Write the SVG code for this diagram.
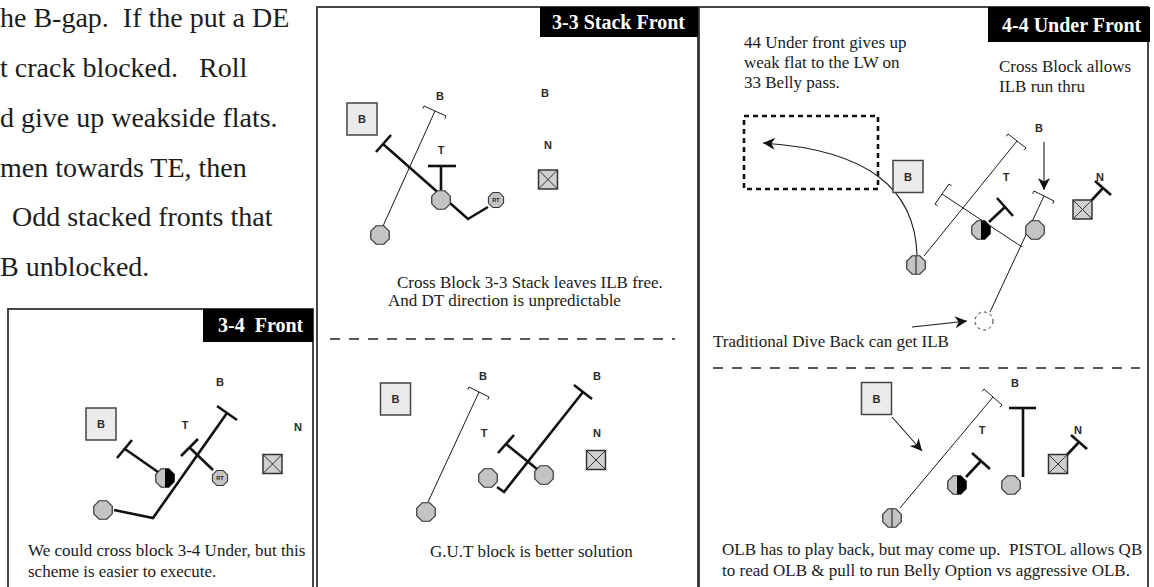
<svg xmlns="http://www.w3.org/2000/svg" xmlns:xlink="http://www.w3.org/1999/xlink" width="1154" height="587" viewBox="0 0 1154 587">
  <style>
    .body { font-family: "Liberation Serif", "Times New Roman", serif; font-size: 28px; fill: #1c1c1c; white-space: pre; }
    .cap { font-family: "Liberation Serif", "Times New Roman", serif; font-size: 17px; fill: #1a1a1a; white-space: pre; }
    .hdr { font-family: "Liberation Serif", "Times New Roman", serif; font-size: 20px; font-weight: bold; fill: #fff; white-space: pre; }
    .lbl { font-family: "Liberation Sans", Arial, sans-serif; font-size: 11px; font-weight: bold; fill: #2a2a2a; text-anchor: middle; }
    .frame { fill: none; stroke: #333; stroke-width: 1.8; }
    .thin { fill: none; stroke: #1a1a1a; stroke-width: 1; }
    .thick { fill: none; stroke: #111; stroke-width: 2.6; }
    .sep { fill: none; stroke: #222; stroke-width: 1.3; stroke-dasharray: 10 9; }
    .zone { fill: none; stroke: #111; stroke-width: 2.6; stroke-dasharray: 5 4; }
    .arrow { fill: none; stroke: #1a1a1a; stroke-width: 1.1; }
  </style>
  <defs>
    <path id="oct" d="M9.24,-3.83 L9.24,3.83 L3.83,9.24 L-3.83,9.24 L-9.24,3.83 L-9.24,-3.83 L-3.83,-9.24 L3.83,-9.24Z"/>
    <g id="plain">
      <use xlink:href="#oct" href="#oct" fill="#c4c4c4" stroke="#333" stroke-width="1.2"/>
    </g>
    <g id="half">
      <use xlink:href="#oct" href="#oct" fill="#c4c4c4" stroke="#333" stroke-width="1.2"/>
      <path d="M0,-9.24 L3.83,-9.24 L9.24,-3.83 L9.24,3.83 L3.83,9.24 L0,9.24Z" fill="#000"/>
    </g>
    <g id="split">
      <use xlink:href="#oct" href="#oct" fill="#c4c4c4" stroke="#333" stroke-width="1.2"/>
      <line x1="0" y1="-9.24" x2="0" y2="9.24" stroke="#333" stroke-width="1.2"/>
    </g>
    <g id="rt">
      <use xlink:href="#oct" href="#oct" fill="#c4c4c4" stroke="#333" stroke-width="1.3" transform="scale(0.82)"/>
      <text y="2" font-family="Liberation Sans, Arial, sans-serif" font-size="5.5" font-weight="bold" text-anchor="middle" fill="#222">RT</text>
    </g>
    <g id="xbox">
      <rect x="-9.5" y="-9.5" width="19" height="19" fill="#d0d0d0" stroke="#333" stroke-width="1.5"/>
      <path d="M-9.5,-9.5 L9.5,9.5 M9.5,-9.5 L-9.5,9.5" stroke="#333" stroke-width="1"/>
    </g>
    <g id="bsq">
      <rect x="-15" y="-16" width="30" height="32" fill="#ebebeb" stroke="#444" stroke-width="1.5"/>
      <text y="4" class="lbl">B</text>
    </g>
    <marker id="ah" viewBox="0 0 10 10" refX="10" refY="5" markerWidth="14" markerHeight="12" markerUnits="userSpaceOnUse" orient="auto">
      <path d="M0,0 L10,5 L0,10 L3,5Z" fill="#111"/>
    </marker>
  </defs>

  <rect width="1154" height="587" fill="#fff"/>

  <!-- running text on the left -->
  <g id="page-text" class="body">
    <text x="0" y="27" xml:space="preserve">he B-gap.  If the put a DE</text>
    <text x="0" y="77" xml:space="preserve">t crack blocked.   Roll</text>
    <text x="0" y="127">d give up weakside flats.</text>
    <text x="0" y="177">men towards TE, then</text>
    <text x="12" y="226">Odd stacked fronts that</text>
    <text x="0" y="276">B unblocked.</text>
  </g>

  <!-- ===== 3-4 Front ===== -->
  <g id="front-34">
    <rect class="frame" x="8" y="309" width="305" height="290"/>
    <rect x="203" y="309" width="110" height="33" fill="#000"/>
    <text class="hdr" x="218" y="332" xml:space="preserve">3-4  Front</text>
    <g id="c34" class="connectors">
      <line class="thick" x1="158" y1="472" x2="125" y2="449"/>
      <line class="thick" x1="117" y1="458" x2="132" y2="440"/>
      <line class="thick" x1="213" y1="470" x2="190" y2="448"/>
      <line class="thick" x1="181" y1="456" x2="198" y2="439"/>
      <polyline class="thick" points="114,510 153,518 227,413"/>
      <line class="thick" x1="217" y1="406" x2="237" y2="420"/>
    </g>
    <g id="n34-b-sq"><use xlink:href="#bsq" href="#bsq" transform="translate(101,424)"/></g>
    <g id="n34-b"><text class="lbl" x="220" y="386">B</text></g>
    <g id="n34-t"><text class="lbl" x="185" y="429">T</text></g>
    <g id="n34-n"><text class="lbl" x="298" y="431">N</text></g>
    <g id="n34-x"><use xlink:href="#xbox" href="#xbox" transform="translate(272.5,464)"/></g>
    <g id="n34-half"><use xlink:href="#half" href="#half" transform="translate(165,478)"/></g>
    <g id="n34-rt"><use xlink:href="#rt" href="#rt" transform="translate(220,478)"/></g>
    <g id="n34-back"><use xlink:href="#plain" href="#plain" transform="translate(103,510)"/></g>
    <text class="cap" x="28" y="556">We could cross block 3-4 Under, but this</text>
    <text class="cap" x="28" y="577">scheme is easier to execute.</text>
  </g>

  <!-- ===== 3-3 Stack Front ===== -->
  <g id="front-33">
    <rect class="frame" x="317" y="7" width="381" height="600"/>
    <rect x="540" y="7" width="158" height="30" fill="#000"/>
    <text class="hdr" x="552" y="29">3-3 Stack Front</text>

    <g id="c33a" class="connectors">
      <line class="thin" x1="383" y1="226" x2="435" y2="111"/>
      <polyline class="thin" points="422.8,108.7 424,106 446,116 444.8,118.7"/>
      <polyline class="thick" points="488,207 468,219 383,144"/>
      <line class="thick" x1="376" y1="152" x2="391" y2="135"/>
      <line class="thick" x1="441" y1="190" x2="441" y2="166"/>
      <line class="thick" x1="428" y1="166" x2="456" y2="166"/>
    </g>
    <g id="n33a-b-sq"><use xlink:href="#bsq" href="#bsq" transform="translate(362,119)"/></g>
    <g id="n33a-b1"><text class="lbl" x="440" y="100">B</text></g>
    <g id="n33a-b2"><text class="lbl" x="545" y="97">B</text></g>
    <g id="n33a-n"><text class="lbl" x="548" y="149">N</text></g>
    <g id="n33a-t"><text class="lbl" x="441" y="154">T</text></g>
    <g id="n33a-x"><use xlink:href="#xbox" href="#xbox" transform="translate(548,179.5)"/></g>
    <g id="n33a-g"><use xlink:href="#plain" href="#plain" transform="translate(441,200)"/></g>
    <g id="n33a-rt"><use xlink:href="#rt" href="#rt" transform="translate(496,200)"/></g>
    <g id="n33a-back"><use xlink:href="#plain" href="#plain" transform="translate(380,235)"/></g>
    <text class="cap" x="397" y="288">Cross Block 3-3 Stack leaves ILB free.</text>
    <text class="cap" x="388" y="306">And DT direction is unpredictable</text>

    <line class="sep" x1="330" y1="339" x2="675" y2="339"/>

    <g id="c33b" class="connectors">
      <line class="thin" x1="428" y1="502" x2="479" y2="392"/>
      <polyline class="thin" points="467.7,389.7 469,387 489,397 487.7,399.7"/>
      <polyline class="thick" points="497,487 504,492 583,392"/>
      <line class="thick" x1="574" y1="385" x2="592" y2="399"/>
      <line class="thick" x1="537" y1="469" x2="506" y2="444"/>
      <line class="thick" x1="498" y1="453" x2="514" y2="435"/>
    </g>
    <g id="n33b-b-sq"><use xlink:href="#bsq" href="#bsq" transform="translate(395.5,399)"/></g>
    <g id="n33b-b1"><text class="lbl" x="483" y="380">B</text></g>
    <g id="n33b-b2"><text class="lbl" x="597" y="380">B</text></g>
    <g id="n33b-t"><text class="lbl" x="484" y="437">T</text></g>
    <g id="n33b-n"><text class="lbl" x="597" y="437">N</text></g>
    <g id="n33b-x"><use xlink:href="#xbox" href="#xbox" transform="translate(596,460)"/></g>
    <g id="n33b-g1"><use xlink:href="#plain" href="#plain" transform="translate(488,478)"/></g>
    <g id="n33b-g2"><use xlink:href="#plain" href="#plain" transform="translate(544,475)"/></g>
    <g id="n33b-back"><use xlink:href="#plain" href="#plain" transform="translate(426,512)"/></g>
    <text class="cap" x="430" y="557">G.U.T block is better solution</text>
  </g>

  <!-- ===== 4-4 Under Front ===== -->
  <g id="front-44">
    <rect class="frame" x="699" y="7" width="449" height="600"/>
    <rect x="988" y="7" width="162" height="35" fill="#000"/>
    <text class="hdr" x="1002" y="32">4-4 Under Front</text>

    <text class="cap" x="744" y="48">44 Under front gives up</text>
    <text class="cap" x="744" y="68">weak flat to the LW on</text>
    <text class="cap" x="744" y="88">33 Belly pass.</text>
    <text class="cap" x="999" y="72">Cross Block allows</text>
    <text class="cap" x="999" y="92">ILB run thru</text>

    <rect id="flat-zone" class="zone" x="744" y="116" width="134" height="73"/>

    <g id="c44a" class="connectors">
      <path class="arrow" d="M917,255 C915,190 870,150 763,143" marker-end="url(#ah)"/>
      <line class="thin" x1="924" y1="256" x2="1017" y2="141"/>
      <polyline class="thin" points="1006.1,136.3 1008,134 1026,148 1024.1,150.3"/>
      <line class="thin" x1="1022" y1="247" x2="942" y2="194"/>
      <polyline class="thin" points="937.5,205.7 935,204 949,184 951.5,185.7"/>
      <line class="thick" x1="989" y1="222" x2="1005" y2="207"/>
      <line class="thick" x1="997" y1="198" x2="1013" y2="216"/>
      <line class="thick" x1="1091" y1="201" x2="1103" y2="188"/>
      <line class="thick" x1="1095" y1="181" x2="1111" y2="195"/>
      <line class="arrow" x1="1044" y1="142" x2="1044" y2="190" marker-end="url(#ah)"/>
      <line class="thin" x1="1044" y1="196" x2="990" y2="312"/>
      <polyline class="thin" points="1032.7,193.7 1034,191 1054,201 1052.7,203.7"/>
      <polyline class="arrow" points="912,327 940,324 967,321" marker-end="url(#ah)"/>
    </g>
    <g id="n44a-b-sq"><use xlink:href="#bsq" href="#bsq" transform="translate(908,176.5)"/></g>
    <g id="n44a-b"><text class="lbl" x="1039" y="132">B</text></g>
    <g id="n44a-t"><text class="lbl" x="1006" y="181">T</text></g>
    <g id="n44a-n"><text class="lbl" x="1100" y="181">N</text></g>
    <g id="n44a-x"><use xlink:href="#xbox" href="#xbox" transform="translate(1082.5,209.5)"/></g>
    <g id="n44a-qb"><use xlink:href="#split" href="#split" transform="translate(916,265)"/></g>
    <g id="n44a-half"><use xlink:href="#half" href="#half" transform="translate(981,230)"/></g>
    <g id="n44a-g"><use xlink:href="#plain" href="#plain" transform="translate(1035,230)"/></g>
    <g id="n44a-dive"><circle cx="984" cy="321" r="9" fill="none" stroke="#333" stroke-width="1" stroke-dasharray="3 3"/></g>
    <text class="cap" x="713" y="347">Traditional Dive Back can get ILB</text>

    <line class="sep" x1="713" y1="368" x2="1140" y2="368"/>

    <g id="c44b" class="connectors">
      <line class="arrow" x1="892" y1="417" x2="922" y2="451" marker-end="url(#ah)"/>
      <line class="thin" x1="900" y1="508" x2="993" y2="397"/>
      <polyline class="thin" points="982.1,391.3 984,389 1002,405 1000.1,407.3"/>
      <line class="thick" x1="966" y1="477" x2="981" y2="461"/>
      <line class="thick" x1="972" y1="453" x2="990" y2="469"/>
      <line class="thick" x1="1023" y1="477" x2="1023" y2="408"/>
      <line class="thick" x1="1009" y1="408" x2="1036" y2="408"/>
      <line class="thick" x1="1066" y1="456" x2="1079" y2="442"/>
      <line class="thick" x1="1071" y1="435" x2="1087" y2="449"/>
    </g>
    <g id="n44b-b-sq"><use xlink:href="#bsq" href="#bsq" transform="translate(876.5,398.5)"/></g>
    <g id="n44b-b"><text class="lbl" x="1015" y="387">B</text></g>
    <g id="n44b-t"><text class="lbl" x="982" y="434">T</text></g>
    <g id="n44b-n"><text class="lbl" x="1078" y="434">N</text></g>
    <g id="n44b-x"><use xlink:href="#xbox" href="#xbox" transform="translate(1058,464)"/></g>
    <g id="n44b-qb"><use xlink:href="#split" href="#split" transform="translate(892,518)"/></g>
    <g id="n44b-half"><use xlink:href="#half" href="#half" transform="translate(957,485)"/></g>
    <g id="n44b-g"><use xlink:href="#plain" href="#plain" transform="translate(1011,485)"/></g>
    <text class="cap" x="722" y="555" xml:space="preserve">OLB has to play back, but may come up.  PISTOL allows QB</text>
    <text class="cap" x="722" y="576">to read OLB &amp; pull to run Belly Option vs aggressive OLB.</text>
  </g>
</svg>
